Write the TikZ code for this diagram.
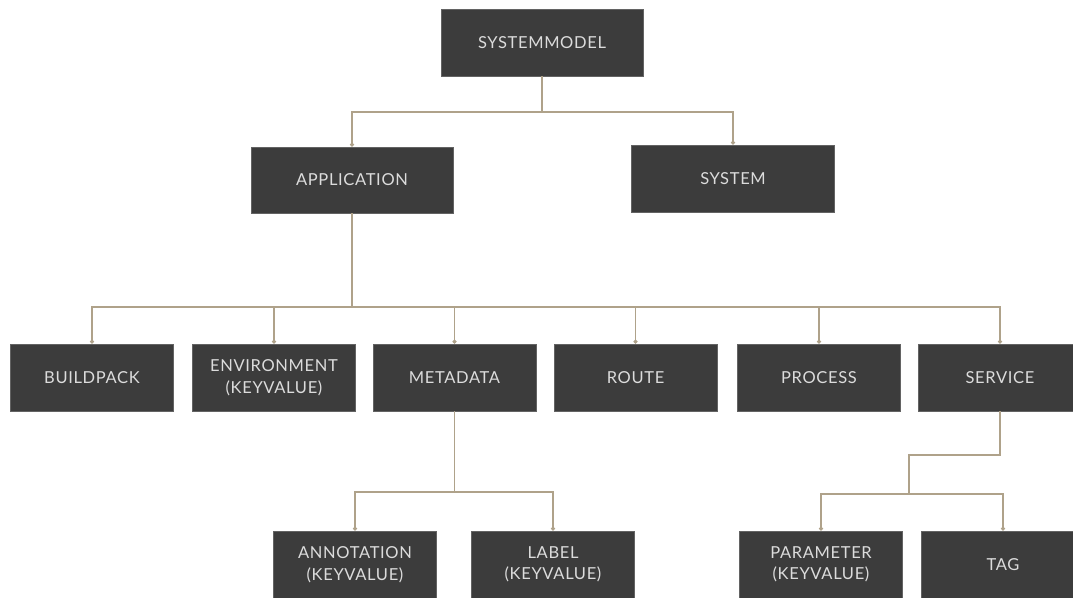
\documentclass[tikz,border=0pt]{standalone}
\usepackage{fontspec}
\setmainfont{Lato}[LetterSpace=4]
\usetikzlibrary{arrows.meta}
\definecolor{boxfill}{HTML}{3C3C3C}
\definecolor{boxtext}{HTML}{DCDCDC}
\definecolor{linecol}{HTML}{AFA28A}
\tikzset{
  box/.style={fill=boxfill, draw=boxfill!80!white, line width=0.6pt, text=boxtext,
    minimum width=163pt, minimum height=67pt, inner sep=0pt, align=center,
    font=\fontsize{16.5}{21.5}\selectfont},
  wide/.style={box, minimum width=202pt},
  conn/.style={draw=linecol, line width=1.2pt},
  tip/.style={conn, -{Circle[length=4pt]}},
}
\begin{document}
\begin{tikzpicture}[x=1pt,y=-1pt]
\useasboundingbox (0,0) rectangle (1073,597);
\clip (0,0) rectangle (1073,597);
\fill[white] (0,0) rectangle (1073,597);
% top
\node[wide] (sm) at (542,42.5) {SYSTEMMODEL};
\node[wide, minimum height=66pt] (app) at (352,180) {APPLICATION};
\node[wide, minimum width=203pt] (sys) at (733,178.5) {SYSTEM};
% row 2
\node[box] (bp) at (92,377.5) {BUILDPACK};
\node[box] (env) at (274,377.5) {ENVIRONMENT\\(KEYVALUE)};
\node[box] (meta) at (454.5,377.5) {METADATA};
\node[box] (route) at (635.5,377.5) {ROUTE};
\node[box] (proc) at (819,377.5) {PROCESS};
\node[box] (serv) at (1000,377.5) {SERVICE};
% row 3
\node[box] (ann) at (355,564.5) {ANNOTATION\\(KEYVALUE)};
\node[box] (lab) at (553,564.5) {LABEL\\(KEYVALUE)};
\node[box] (par) at (821,564.5) {PARAMETER\\(KEYVALUE)};
\node[box] (tag) at (1003,564.5) {TAG};
% junctions
\coordinate (j1) at (542,112);
\coordinate (j2) at (352,307);
\coordinate (j3) at (454.5,492);
\coordinate (s1) at (909,455);
\coordinate (s2) at (909,494);
% connectors
\draw[conn] (sm.south) -- (j1);
\draw[tip] (j1) -| (app.north);
\draw[tip] (j1) -| (sys.north);
\draw[conn] (app.south) -- (j2);
\foreach \n in {bp,env,meta,route,proc,serv}
  \draw[tip] (j2) -| (\n.north);
\draw[conn] (meta.south) -- (j3);
\draw[tip] (j3) -| (ann.north);
\draw[tip] (j3) -| (lab.north);
\draw[conn] (serv.south) |- (s1) -- (s2);
\draw[tip] (s2) -| (par.north);
\draw[tip] (s2) -| (tag.north);
\end{tikzpicture}
\end{document}
